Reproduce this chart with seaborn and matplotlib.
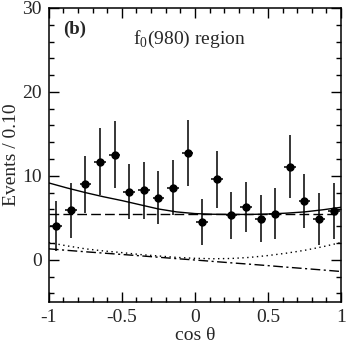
import matplotlib
matplotlib.use("Agg")
import matplotlib.pyplot as plt
import pandas as pd
import seaborn as sns
from matplotlib.ticker import MultipleLocator

# data points (bin centres, counts, errors)
cos_theta = [-0.95, -0.85, -0.75, -0.65, -0.55, -0.45, -0.35, -0.25, -0.15, -0.05,
             0.05, 0.15, 0.25, 0.35, 0.45, 0.55, 0.65, 0.75, 0.85, 0.95]
events = [4.0, 5.9, 9.0, 11.7, 12.5, 8.1, 8.3, 7.4, 8.6, 12.7,
          4.5, 9.6, 5.3, 6.3, 4.9, 5.5, 11.1, 7.0, 4.9, 5.8]
events_err = [3.0, 3.3, 3.4, 4.0, 4.0, 3.3, 3.4, 3.2, 3.3, 3.9,
              2.7, 3.4, 2.8, 3.0, 2.8, 3.0, 3.8, 3.2, 3.1, 3.3]

# curves
curve_x = [-1.0, -0.875, -0.75, -0.625, -0.5, -0.375, -0.25, -0.125, 0.0,
           0.125, 0.25, 0.375, 0.5, 0.625, 0.75, 0.875, 1.0]
total_fit = [9.15, 8.55, 8.0, 7.5, 7.05, 6.55, 6.05, 5.7, 5.5,
             5.42, 5.4, 5.4, 5.45, 5.55, 5.7, 5.95, 6.25]
flat_bkg = [5.45] * len(curve_x)
dotted_comp = [2.05, 1.65, 1.3, 1.05, 0.85, 0.62, 0.45, 0.28, 0.17,
               0.12, 0.15, 0.28, 0.5, 0.78, 1.12, 1.55, 2.05]
dashdot_comp = [1.3, 1.12, 0.95, 0.79, 0.63, 0.47, 0.3, 0.13, -0.03,
                -0.2, -0.37, -0.53, -0.7, -0.88, -1.05, -1.22, -1.4]

sns.set_style("ticks")
plt.rcParams["font.family"] = ["Liberation Serif", "DejaVu Serif"]
plt.rcParams["mathtext.fontset"] = "custom"
plt.rcParams["mathtext.rm"] = "Liberation Serif"

fig = plt.figure(figsize=(3.49, 3.46), dpi=100)
ax = fig.add_axes([0.140, 0.128, 0.837, 0.849])

curves = pd.DataFrame({"x": curve_x, "total": total_fit, "flat": flat_bkg,
                       "dotted": dotted_comp, "dashdot": dashdot_comp})

lw = 1.0
sns.lineplot(data=curves, x="x", y="total", ax=ax, color="black", lw=lw, estimator=None)
sns.lineplot(data=curves, x="x", y="flat", ax=ax, color="black", lw=lw, estimator=None,
             linestyle=(0, (7, 3)))
sns.lineplot(data=curves, x="x", y="dotted", ax=ax, color="black", lw=lw, estimator=None,
             linestyle=(0, (1, 2.5)))
sns.lineplot(data=curves, x="x", y="dashdot", ax=ax, color="black", lw=lw, estimator=None,
             linestyle=(0, (7, 2.5, 1.5, 2.5)))

ax.errorbar(cos_theta, events, yerr=events_err, xerr=0.04, fmt="o", color="black",
            ms=5, elinewidth=1.1, capsize=0, zorder=5)

ax.set_xlim(-1, 1)
ax.set_ylim(-5, 30)
ax.xaxis.set_minor_locator(MultipleLocator(0.1))
ax.yaxis.set_minor_locator(MultipleLocator(2))
ax.set_xticks([-1, -0.5, 0, 0.5, 1])
ax.set_xticklabels(["-1", "-0.5", "0", "0.5", "1"])
ax.set_yticks([0, 10, 20, 30])
ax.set_yticklabels(["0", "10", "20", "30"])
ax.tick_params(which="both", direction="in", top=True, right=True, width=1.0,
               labelsize=14, color="black")
ax.tick_params(which="major", length=7, pad=5)
ax.tick_params(which="minor", length=3.5)
for s in ax.spines.values():
    s.set_linewidth(1.1)
    s.set_color("black")

ax.set_xlabel("cos θ", fontsize=14, labelpad=1)
ax.set_ylabel("Events / 0.10", fontsize=14, labelpad=2)

ax.text(-0.905, 27.4, "(b)", fontsize=13.5, fontweight="bold", va="center", ha="left")
ax.text(-0.035, 26.3, r"f$_0$(980) region", fontsize=14, va="center", ha="center")

fig.savefig("out.png", dpi=100)
